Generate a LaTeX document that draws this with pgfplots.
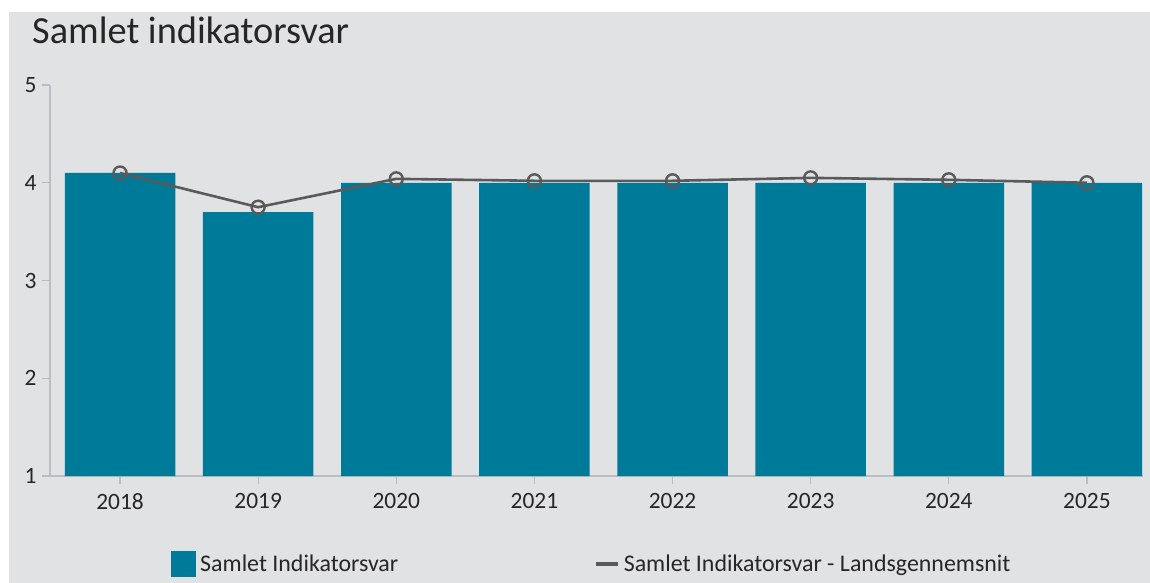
\documentclass[border=0pt]{standalone}
\usepackage{pgfplots}
\pgfplotsset{compat=1.18}
\usepackage{fontspec}
\setmainfont{Carlito}
\definecolor{bg}{HTML}{E1E2E4}
\definecolor{barc}{HTML}{007A99}
\definecolor{linec}{HTML}{5A5A5A}
\definecolor{axc}{HTML}{B9BEC3}
\definecolor{txt}{HTML}{262626}
\begin{document}
\begin{tikzpicture}
\useasboundingbox (0,0) rectangle (1150bp,-583bp);
\fill[white] (0,0) rectangle (1150bp,-583bp);
\fill[bg] (9bp,-12bp) rectangle (1150bp,-583bp);
\node[anchor=base west, inner sep=0pt, font=\fontsize{38.5}{42}\selectfont, text=txt] at (32bp,-43bp) {Samlet indikatorsvar};
\begin{axis}[
  at={(50bp,-476bp)}, anchor=south west,
  scale only axis, width=1093bp, height=391bp,
  xmin=-0.507, xmax=7.406, ymin=1, ymax=5,
  axis x line*=bottom, axis y line*=left,
  axis line style={axc, line width=1.2bp},
  x axis line style={-}, y axis line style={-},
  xtick={0,...,7},
  xticklabels={2018,2019,2020,2021,2022,2023,2024,2025},
  ytick={1,2,3,4,5},
  tick style={axc, line width=1.2bp},
  major tick length=8bp,
  tick align=outside,
  ticklabel style={font=\fontsize{23.5}{25}\selectfont, text=txt},
  /pgf/number format/assume math mode=true,
  xticklabel style={yshift=-6bp},
  yticklabel style={xshift=-2bp},
  clip=true,
  legend columns=2,
  legend style={at={(0.108,-0.225)}, anchor=west, draw=none, fill=none,
    font=\fontsize{24}{26}\selectfont, text=txt,
    /tikz/every even column/.append style={column sep=194bp},
    /tikz/every odd column/.append style={column sep=2bp}},
]
\addplot[ybar, bar width=0.8, fill=barc, draw=none,
  legend image code/.code={\fill[barc] (0bp,-13bp) rectangle (25bp,13bp);}]
  coordinates {(0,4.1) (1,3.7) (2,4.0) (3,4.0) (4,4.0) (5,4.0) (6,4.0) (7,4.0)};
\addlegendentry{Samlet Indikatorsvar}
\addplot[linec, line width=2.6bp, mark=o, mark size=6.5bp,
  mark options={line width=2.4bp, fill=none},
  legend image code/.code={\draw[linec, line width=3.5bp] (0bp,0bp) -- (22bp,0bp);}]
  coordinates {(0,4.10) (1,3.75) (2,4.04) (3,4.02) (4,4.02) (5,4.05) (6,4.03) (7,4.00)};
\addlegendentry{Samlet Indikatorsvar - Landsgennemsnit}
\end{axis}
\end{tikzpicture}
\end{document}
